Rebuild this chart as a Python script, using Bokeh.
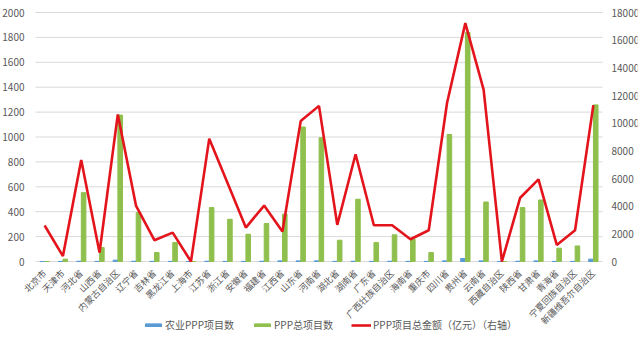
import math
from bokeh.plotting import figure
from bokeh.models import (ColumnDataSource, FactorRange, Range1d, LinearAxis,
                          FixedTicker, Legend, LegendItem)
from bokeh.transform import dodge
from bokeh.embed import file_html
from bokeh.resources import INLINE

provinces = ["北京市", "天津市", "河北省", "山西省", "内蒙古自治区", "辽宁省", "吉林省",
             "黑龙江省", "上海市", "江苏省", "浙江省", "安徽省", "福建省", "江西省",
             "山东省", "河南省", "湖北省", "湖南省", "广东省", "广西壮族自治区", "海南省",
             "重庆市", "四川省", "贵州省", "云南省", "西藏自治区", "陕西省", "甘肃省",
             "青海省", "宁夏回族自治区", "新疆维吾尔自治区"]

agri_projects = [0, 1, 2, 1, 11, 2, 1, 1, 0, 2, 1, 1, 2, 5, 5, 5, 1, 2, 1, 2, 1,
                 1, 5, 24, 5, 0, 2, 5, 1, 1, 19]

total_projects = [0, 19, 553, 112, 1176, 393, 72, 152, 0, 433, 339, 219, 305, 380,
                  1080, 994, 171, 500, 152, 214, 179, 72, 1020, 1840, 478, 0, 433,
                  494, 107, 125, 1258]

total_amount = [2600, 390, 7330, 650, 10630, 4020, 1540, 2090, 0, 8880, 5680, 2450,
                4040, 2170, 10150, 11250, 2650, 7750, 2620, 2620, 1610, 2260, 11460,
                17230, 12420, 0, 4610, 5940, 1200, 2260, 11300]

left_ticks = [0, 200, 400, 600, 800, 1000, 1200, 1400, 1600, 1800, 2000]
right_ticks = [0, 2000, 4000, 6000, 8000, 10000, 12000, 14000, 16000, 18000]

legend_labels = ["农业PPP项目数", "PPP总项目数", "PPP项目总金额（亿元）（右轴）"]

BLUE = "#5B9BD5"
GREEN = "#8FBF4D"
RED = "#E3141C"
FONT = "Noto Sans CJK SC"
TXT = "#595959"

# ---- layout (pixels) ----
W, H = 640, 355
FRAME_W = W - 3
PLOT_L, PLOT_R = 35, 602          # category area
Y_TOP, Y_ZERO = 12, 261           # pixel rows of 2000 and 0
n = len(provinces)
unit = (PLOT_R - PLOT_L) / n
pad_units = PLOT_L / unit
LEFT_MAX = left_ticks[-1]
per_px = LEFT_MAX / (Y_ZERO - Y_TOP)
L_TOP = LEFT_MAX + Y_TOP * per_px
L_BOT = -(H - Y_ZERO) * per_px
RATIO = right_ticks[-1] / LEFT_MAX

src = ColumnDataSource(dict(prov=provinces, agri=agri_projects,
                            total=total_projects, amount=total_amount))
grid_src = ColumnDataSource(dict(first=[provinces[0]] * len(left_ticks),
                                 last=[provinces[-1]] * len(left_ticks),
                                 y=left_ticks))

x_range = FactorRange(*provinces, range_padding=2 * pad_units / n,
                      range_padding_units="percent")
p = figure(width=W, height=H, x_range=x_range,
           y_range=Range1d(L_BOT, L_TOP), output_backend="svg",
           toolbar_location=None,
           min_border_left=0, min_border_right=W - FRAME_W, min_border_top=0,
           min_border_bottom=0)
p.extra_y_ranges = {"right": Range1d(L_BOT * RATIO, L_TOP * RATIO)}
p.outline_line_color = None
p.background_fill_color = "white"
p.border_fill_color = "white"
p.grid.visible = False

p.segment(x0=dodge("first", -0.5, range=x_range), x1=dodge("last", 0.5, range=x_range),
          y0="y", y1="y", source=grid_src, line_color="#D9D9D9", line_width=1)

r_agri = p.vbar(x=dodge("prov", -0.13, range=x_range), top="agri", width=0.25,
                source=src, color=BLUE)
r_total = p.vbar(x=dodge("prov", 0.13, range=x_range), top="total", width=0.25,
                 source=src, color=GREEN)
r_amt = p.line(x="prov", y="amount", source=src, y_range_name="right",
               line_color=RED, line_width=2.6)

ly = p.yaxis[0]
ly.fixed_location = 0
ly.ticker = FixedTicker(ticks=left_ticks)
ly.axis_line_color = None
ly.major_tick_line_color = None
ly.minor_tick_line_color = None
ly.major_label_text_font = FONT
ly.major_label_text_font_size = "10px"
ly.major_label_text_color = TXT
ly.major_label_standoff = 5

ry = LinearAxis(y_range_name="right", ticker=FixedTicker(ticks=right_ticks))
ry.fixed_location = n
ry.axis_line_color = None
ry.major_tick_line_color = None
ry.minor_tick_line_color = None
ry.major_label_text_font = FONT
ry.major_label_text_font_size = "10px"
ry.major_label_text_color = TXT
ry.major_label_standoff = 3
p.add_layout(ry, "right")

xa = p.xaxis[0]
xa.fixed_location = 0
xa.axis_line_color = None
xa.major_tick_line_color = None
xa.minor_tick_line_color = None
xa.major_label_orientation = math.pi / 4
xa.major_label_text_font = FONT
xa.major_label_text_font_size = "9px"
xa.major_label_text_color = TXT
xa.major_label_standoff = 4

legend = Legend(items=[LegendItem(label=legend_labels[0], renderers=[r_agri]),
                       LegendItem(label=legend_labels[1], renderers=[r_total]),
                       LegendItem(label=legend_labels[2], renderers=[r_amt])],
                orientation="horizontal", location=(143, 23),
                label_text_font=FONT, label_text_font_size="10px",
                label_text_color=TXT, glyph_width=20, glyph_height=4,
                label_standoff=2, spacing=18, border_line_color=None,
                background_fill_alpha=0, padding=0, margin=0)
p.add_layout(legend, "center")

open("out.html", "w").write(file_html(p, INLINE))
